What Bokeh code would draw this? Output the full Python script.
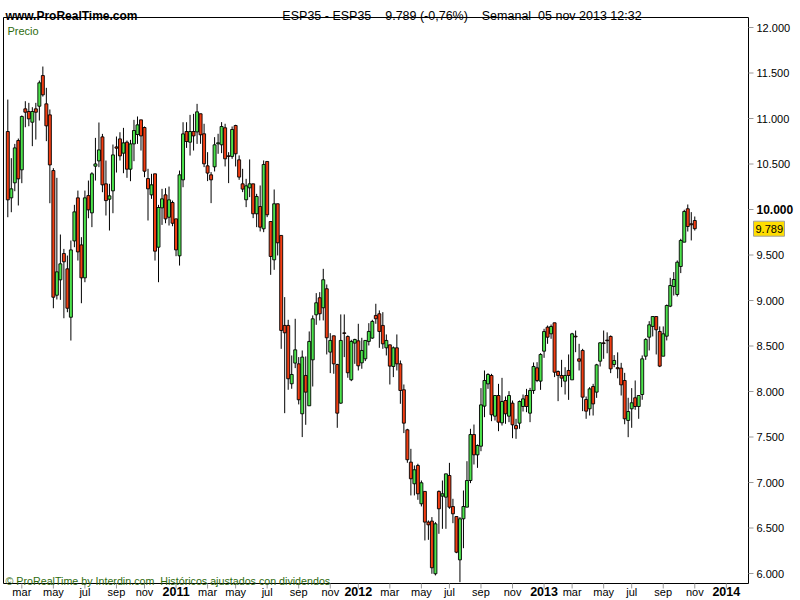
import pandas as pd
from bokeh.plotting import figure
from bokeh.models import ColumnDataSource, Range1d
from bokeh.core.properties import value
from bokeh.embed import file_html
from bokeh.resources import INLINE

# Weekly OHLC of ESP35, first week starting 2010-02-01
open_ = [10857, 10128, 10293, 10758, 10436, 11106, 11077, 10959, 11106, 11135,
         11472, 11161, 11040, 10428, 9058, 9227, 9516, 9348, 8816, 9655,
         10128, 9611, 9249, 10153, 9963, 10476, 10534, 10798, 10282, 10113,
         10205, 10688, 10776, 10619, 10740, 10443, 10721, 10824, 10985, 10901,
         10340, 10161, 10392, 9586, 10018, 10161, 9915, 10077, 9897, 9491,
         10326, 10857, 10740, 10857, 10853, 11052, 10832, 10480, 10381, 10469,
         10722, 10711, 10898, 10590, 10583, 10923, 10546, 10282, 10107, 10238,
         10282, 9953, 10033, 9788, 10528, 9868, 9447, 10063, 9715, 8726,
         8726, 8085, 8312, 8304, 7755, 8176, 7843, 8348, 8843, 9030,
         8920, 9129, 8433, 8612, 8297, 7872, 8645, 8605, 8129, 8532,
         8557, 8315, 8359, 8550, 8587, 8836, 8854, 8726, 8480, 8513,
         8275, 8480, 8304, 8019, 7579, 7224, 6986, 7187, 6766, 6902,
         6565, 6576, 5997, 6902, 6850, 6839, 7077, 6736, 6626, 6150,
         6601, 6729, 7022, 7527, 7304, 7399, 7839, 8084, 8176, 7729,
         7956, 7656, 7901, 7729, 7872, 7626, 7652, 7835, 7956, 7762,
         8011, 8260, 8114, 8443, 8707, 8634, 8755, 8220, 8176, 8114,
         8231, 8128, 8608, 8359, 8451, 7912, 7810, 8055, 7993, 8333,
         8535, 8565, 8605, 8297, 8262, 8257, 8121, 7682, 7810, 7931,
         7835, 7967, 8388, 8597, 8715, 8824, 8660, 8388, 8608, 8938,
         9154, 9066, 9374, 9641, 10008, 9843, 9879]
high = [11208, 10564, 10721, 10780, 11033, 11190, 11172, 11124, 11172, 11417,
        11571, 11337, 11099, 10454, 10348, 9725, 9567, 9494, 9659, 10051,
        10208, 9696, 10208, 10318, 10410, 10787, 10956, 10831, 10538, 10282,
        10714, 10802, 10849, 10897, 10758, 10765, 10985, 11022, 10985, 10912,
        10447, 10392, 10392, 10051, 10227, 10234, 10252, 10098, 9897, 10428,
        10959, 10959, 11040, 11051, 11161, 11052, 10942, 10630, 10411, 10795,
        10832, 10960, 10942, 10630, 10912, 10931, 10594, 10447, 10337, 10550,
        10282, 10172, 10264, 10539, 10528, 9868, 10220, 10063, 9715, 9037,
        8788, 8396, 8799, 8378, 8451, 8385, 8660, 8836, 9081, 9092,
        9348, 9176, 8641, 8612, 8304, 8847, 8847, 8616, 8568, 8579,
        8744, 8590, 8561, 8751, 8788, 8964, 8891, 8872, 8627, 8513,
        8495, 8627, 8341, 8077, 7590, 7370, 7187, 7206, 7022, 6902,
        6583, 6620, 6565, 6913, 7022, 7095, 7216, 6821, 6626, 6620,
        6912, 7234, 7590, 7637, 7418, 8037, 8231, 8201, 8194, 7956,
        8084, 8150, 7945, 8004, 7901, 7700, 7901, 7967, 8029, 8040,
        8319, 8322, 8421, 8689, 8725, 8736, 8755, 8231, 8348, 8267,
        8407, 8645, 8670, 8524, 8469, 7945, 8048, 8084, 8304, 8542,
        8670, 8650, 8616, 8400, 8430, 8315, 8205, 7931, 8037, 8121,
        7956, 8396, 8586, 8773, 8824, 8824, 8715, 8715, 8956, 9249,
        9312, 9440, 9678, 9997, 10055, 9971, 9923]
low = [9915, 9970, 10201, 10044, 10289, 10904, 10915, 10696, 10769, 10978,
       11241, 10751, 10069, 8915, 9011, 9007, 8805, 8871, 8560, 9586,
       9439, 8970, 9201, 9904, 9806, 10318, 10465, 10190, 9934, 9769,
       9959, 10406, 10538, 10399, 10348, 10311, 10531, 10721, 10648, 10355,
       9879, 10117, 9439, 9201, 9831, 9849, 9824, 9816, 9487, 9384,
       10245, 10677, 10593, 10648, 10721, 10722, 10466, 10312, 10070, 10418,
       10612, 10619, 10473, 10290, 10557, 10473, 10326, 10191, 10026, 10136,
       9905, 9806, 9759, 9751, 9916, 9282, 9337, 9495, 8469, 7762,
       8019, 8030, 8257, 7858, 7499, 7634, 7843, 8055, 8733, 8781,
       8781, 8407, 8202, 8195, 7601, 7865, 8378, 8151, 8114, 8304,
       8231, 8250, 8334, 8506, 8579, 8744, 8480, 8469, 8396, 8077,
       8158, 8231, 7865, 7543, 7217, 6858, 6858, 6810, 6737, 6363,
       6370, 5997, 5979, 6436, 6491, 6491, 6711, 6553, 6223, 5905,
       6278, 6729, 6993, 7198, 7161, 7344, 7718, 8029, 7674, 7681,
       7564, 7626, 7645, 7663, 7487, 7480, 7590, 7780, 7773, 7663,
       7974, 8103, 8018, 8370, 8524, 8579, 8158, 7894, 8048, 7967,
       7908, 8128, 8432, 8231, 7784, 7700, 7736, 7736, 7930, 8275,
       8359, 8420, 8202, 8267, 8145, 7956, 7640, 7498, 7601, 7799,
       7700, 7909, 8348, 8451, 8605, 8407, 8268, 8388, 8561, 8927,
       9055, 9044, 9301, 9641, 9758, 9660, 9769]
close = [10106, 10227, 10677, 10337, 11022, 11069, 10996, 11077, 11069, 11392,
         11260, 10919, 10490, 9036, 9315, 9403, 9425, 8915, 9556, 9974,
         9534, 9249, 10128, 9996, 10392, 10501, 10655, 10271, 10098, 10150,
         10600, 10674, 10589, 10732, 10443, 10721, 10868, 10930, 10809, 10421,
         10227, 10271, 9542, 10022, 10117, 9897, 10106, 9849, 9556, 10381,
         10831, 10747, 10857, 10809, 11073, 10821, 10502, 10400, 10326, 10711,
         10733, 10912, 10557, 10583, 10879, 10612, 10356, 10224, 10260, 10282,
         9953, 10143, 9806, 10495, 9942, 9484, 10063, 9634, 8671, 8645,
         8140, 8187, 8458, 7909, 8378, 7993, 8550, 8799, 8975, 8854,
         9228, 8590, 8561, 8304, 7762, 8561, 8638, 8206, 8550, 8572,
         8282, 8451, 8561, 8660, 8770, 8799, 8660, 8524, 8561, 8279,
         8480, 8304, 8011, 7652, 7250, 7041, 7140, 6876, 6997, 6565,
         6535, 6063, 6546, 6711, 6876, 7095, 6729, 6656, 6234, 6601,
         6736, 7022, 7527, 7304, 7407, 7853, 8121, 8187, 7744, 7956,
         7663, 7890, 7755, 7956, 7634, 7590, 7890, 7919, 7835, 8011,
         8275, 8121, 8407, 8659, 8597, 8714, 8212, 8176, 8147, 8176,
         8176, 8634, 8600, 8333, 7938, 7784, 8029, 7864, 8293, 8535,
         8527, 8558, 8249, 8341, 8250, 8073, 7700, 7780, 7876, 7835,
         7956, 8359, 8572, 8733, 8824, 8678, 8279, 8634, 8945, 9165,
         9231, 9421, 9660, 9978, 9813, 9832, 9789]

first_week = "2010-02-01"
n_slots = 212                      # weekly slots shown on the time axis
y_ticks = [6000, 6500, 7000, 7500, 8000, 8500, 9000, 9500, 10000, 10500, 11000, 11500, 12000]
y_tick_labels = ["6.000", "6.500", "7.000", "7.500", "8.000", "8.500", "9.000",
                 "9.500", "10.000", "10.500", "11.000", "11.500", "12.000"]
bold_tick = 10000
month_abbr = {3: "mar", 5: "may", 7: "jul", 9: "sep", 11: "nov"}
last_price = 9789
last_price_label = "9.789"
header_left = "www.ProRealTime.com"
header_center = "ESP35 - ESP35\u00a0\u00a0\u00a0 9.789 (-0,76%)\u00a0\u00a0\u00a0 Semanal\u00a0 05 nov 2013 12:32"
panel_title = "Precio"
footer = "\u00a9 ProRealTime by Interdin.com\u00a0 Hist\u00f3ricos ajustados con dividendos"

# ---------------- style / layout ----------------
GREEN = "#4ce44c"
RED = "#f23d12"
TXT_GREEN = "#2e6b0e"
SANS = value("Liberation Sans")
W, H = 800, 600
BAR_PX0, BAR_PX = 7.3, 3.505        # pixel x of first bar, pixels per bar
VAL_PY0, VAL_PX = 27.0, 0.091       # pixel y of 12000, pixels per point
FRAME = dict(left=3, right=748, top=17, bottom=583)


def dx(px):
    return (px - BAR_PX0) / BAR_PX


def dv(py):
    return 12000 - (py - VAL_PY0) / VAL_PX


p = figure(width=W, height=H, output_backend="svg", toolbar_location=None,
           x_range=Range1d(dx(0), dx(W)), y_range=Range1d(dv(H), dv(0)),
           x_axis_location=None, y_axis_location=None, min_border=0)
p.background_fill_color = "white"
p.border_fill_color = "white"
p.outline_line_color = None
p.grid.visible = False

# ---------------- candles ----------------
n = len(close)
xs = list(range(n))
src = ColumnDataSource(dict(
    x=xs, high=high, low=low,
    top=[max(o, c) for o, c in zip(open_, close)],
    bottom=[min(o, c) for o, c in zip(open_, close)],
    color=[GREEN if c >= o else RED for o, c in zip(open_, close)]))
p.segment(x0="x", y0="high", x1="x", y1="low", source=src, line_color="black", line_width=1)
p.vbar(x="x", width=0.85, top="top", bottom="bottom", source=src,
       fill_color="color", line_color="black", line_width=0.9)

# plot frame
p.quad(left=[dx(FRAME["left"])], right=[dx(FRAME["right"])],
       top=[dv(FRAME["top"])], bottom=[dv(FRAME["bottom"])],
       fill_color=None, line_color="black", line_width=1)

# ---------------- price scale (right) ----------------
fr = dx(FRAME["right"])
p.segment(x0=[fr] * len(y_ticks), x1=[dx(753)] * len(y_ticks), y0=y_ticks, y1=y_ticks,
          line_color="#999999", line_width=1)
reg = [(t, l) for t, l in zip(y_ticks, y_tick_labels) if t != bold_tick]
p.text(x=[dx(756)] * len(reg), y=[t for t, _ in reg], text=[l for _, l in reg],
       text_font=SANS, text_font_size=value("11px"), text_baseline=value("middle"),
       text_color="black")
p.text(x=[dx(756)], y=[bold_tick], text=[y_tick_labels[y_ticks.index(bold_tick)]],
       text_font=SANS, text_font_size=value("12px"), text_font_style=value("bold"),
       text_baseline=value("middle"), text_color="black")
# last price tag
p.rect(x=[dx(768.5)], y=[last_price], width=[31 / BAR_PX], height=[15 / VAL_PX],
       fill_color="#ffdd00", line_color="#a0a0a0", line_width=1)
p.text(x=[dx(755)], y=[last_price], text=[last_price_label], text_font=SANS,
       text_font_size=value("11px"), text_baseline=value("middle"), text_color="black")

# ---------------- time scale (bottom) ----------------
dates = pd.date_range(first_week, periods=n_slots, freq="7D")
tick_idx, tick_lbl = [], []
for i in range(1, len(dates)):
    m = dates[i].month
    if m != dates[i - 1].month and m in (1, 3, 5, 7, 9, 11):
        tick_idx.append(i)
        tick_lbl.append(str(dates[i].year) if m == 1 else month_abbr[m])
fb = dv(FRAME["bottom"])
p.segment(x0=tick_idx, x1=tick_idx, y0=[fb] * len(tick_idx), y1=[dv(588)] * len(tick_idx),
          line_color="#999999", line_width=1)
mi = [(i, l) for i, l in zip(tick_idx, tick_lbl) if not l.isdigit()]
yi = [(i, l) for i, l in zip(tick_idx, tick_lbl) if l.isdigit()]
p.text(x=[i for i, _ in mi], y=[dv(591)] * len(mi), text=[l for _, l in mi],
       text_font=SANS, text_font_size=value("11px"), text_align=value("center"),
       text_baseline=value("middle"), text_color="black")
p.text(x=[i for i, _ in yi], y=[dv(591)] * len(yi), text=[l for _, l in yi],
       text_font=SANS, text_font_size=value("12.5px"), text_font_style=value("bold"),
       text_align=value("center"), text_baseline=value("middle"), text_color="black")

# ---------------- header / captions ----------------
p.text(x=[dx(5)], y=[dv(15)], text=[header_left], text_font=SANS,
       text_font_size=value("12px"), text_font_style=value("bold"),
       text_baseline=value("alphabetic"), text_color="black")
p.text(x=[dx(461.5)], y=[dv(15)], text=[header_center], text_font=SANS,
       text_font_size=value("12.5px"), text_align=value("center"),
       text_baseline=value("alphabetic"), text_color="black")
p.text(x=[dx(7)], y=[dv(30)], text=[panel_title], text_font=SANS,
       text_font_size=value("11px"), text_baseline=value("alphabetic"), text_color=TXT_GREEN)
p.text(x=[dx(5)], y=[dv(580)], text=[footer], text_font=SANS,
       text_font_size=value("10.7px"), text_baseline=value("alphabetic"), text_color=TXT_GREEN)

open("out.html", "w").write(file_html(p, INLINE))
